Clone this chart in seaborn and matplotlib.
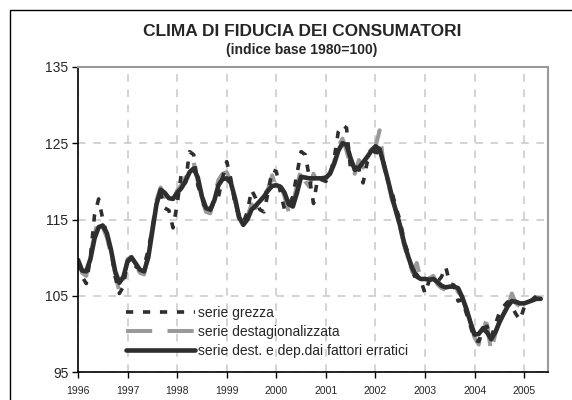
import numpy as np
import pandas as pd
import seaborn as sns
import matplotlib.pyplot as plt
from matplotlib.patches import Rectangle

# monthly series, Jan 1996 - May 2005
serie_grezza = [
    109.3, 107.5, 106.6, 110.0, 115.6, 117.7, 115.0, 113.0, 110.8, 107.5, 105.3, 106.2,
    109.6, 110.1, 108.8, 108.5, 108.9, 111.0, 113.8, 117.0, 118.5, 116.5, 116.2, 113.9,
    117.0, 121.0, 119.8, 123.9, 123.5, 119.5, 117.8, 116.0, 116.2, 117.3, 118.0, 120.5,
    122.6, 120.3, 117.0, 115.5, 114.6, 116.0, 118.9, 117.8, 116.3, 116.0, 118.5, 121.5,
    121.3, 118.5, 116.3, 116.8, 118.0, 121.0, 123.9, 123.5, 120.5, 117.1, 120.4, 120.2,
    120.0, 120.8, 123.0, 126.5, 127.4, 127.0, 121.5, 122.0, 121.6, 119.8, 122.5, 123.2,
    124.0, 123.5, 122.4, 120.0, 118.6, 116.5, 114.8, 112.0, 110.5, 107.5, 107.8, 107.0,
    105.3, 107.0, 107.2, 106.8, 107.5, 108.8, 106.6, 106.4, 104.3, 104.5, 102.7, 101.0,
    99.2, 99.0, 100.8, 101.0, 99.5, 101.2, 102.8, 103.6, 104.2, 103.6, 102.6, 101.8,
    103.5, 104.2, 104.5, 105.0, 105.8,
]
serie_destag = [
    109.5, 108.0, 107.6, 110.3, 113.0, 115.2, 114.0, 112.6, 110.5, 108.0, 105.5, 107.2,
    109.8, 110.2, 109.0, 108.0, 107.8, 110.5, 114.0, 117.5, 119.2, 118.2, 117.0, 117.4,
    118.8, 119.5, 120.5, 121.0, 122.5, 120.0, 117.5, 116.0, 115.8, 118.0, 120.2, 121.0,
    121.2, 120.0, 117.5, 115.0, 114.0, 115.4, 117.0, 116.5, 117.8, 118.2, 119.0, 120.8,
    119.0, 119.6, 118.0, 116.0, 117.0, 119.5, 121.5, 120.0, 119.3, 121.0, 119.8, 120.8,
    120.3, 121.2, 122.6, 124.5, 125.6, 124.0, 122.0, 121.0, 122.8, 121.8, 123.5, 124.2,
    124.5, 126.7, 122.0, 120.0, 117.5, 116.2, 113.8, 111.5, 109.8, 108.0, 109.3, 107.0,
    107.0, 107.3, 107.6, 106.5, 106.0, 105.8, 106.4, 106.3, 105.5, 104.9, 103.0, 101.5,
    99.5, 98.6, 101.5, 101.3, 97.7, 100.0, 101.8, 102.5, 103.3, 105.3, 104.0, 103.6,
    103.8, 104.3, 104.6, 104.8, 104.5,
]
serie_trend = [
    109.7, 108.3, 108.2, 109.8, 112.5, 114.0, 114.2, 113.2, 111.0, 108.2, 106.7, 107.5,
    109.5, 110.0, 109.2, 108.4, 108.2, 110.0, 113.5, 117.0, 118.9, 118.5, 117.8, 117.7,
    118.5, 119.1, 120.0, 121.2, 121.7, 120.5, 118.0, 116.5, 116.3, 117.5, 119.5, 120.3,
    120.4, 119.8, 117.8, 115.3, 114.3, 115.0, 116.3, 116.8, 117.4, 118.0, 118.8, 119.4,
    119.5, 119.3, 118.5, 117.0, 116.7, 118.5, 120.6, 120.5, 120.4, 120.4, 120.4, 120.4,
    120.5, 121.0, 122.3, 124.0, 125.0, 124.8, 123.0, 121.5, 121.8, 122.5, 123.2, 124.0,
    124.6, 124.2, 122.3, 120.2, 118.0, 116.0, 114.1, 111.8, 110.0, 108.5, 107.5, 107.2,
    107.2, 107.1, 107.2, 106.8, 106.3, 106.1, 106.2, 106.2, 106.0, 104.8, 103.3, 101.5,
    99.9, 100.0, 100.7, 100.2, 99.3, 100.2, 101.5, 102.6, 103.6, 104.3, 104.2, 104.0,
    104.0, 104.2, 104.4, 104.6, 104.6,
]
anni = list(range(1996, 2006))
yticks = [95, 105, 115, 125, 135]

dates = pd.date_range("1996-01-01", periods=len(serie_trend), freq="MS")
df = pd.DataFrame({
    "t": dates.year + (dates.month - 1) / 12,
    "grezza": serie_grezza,
    "destag": serie_destag,
    "trend": serie_trend,
})

sns.set_style("white")
plt.rcParams["font.family"] = ["Liberation Sans", "DejaVu Sans"]

fig = plt.figure(figsize=(5.72, 4.0), dpi=100)
ax = fig.add_axes([78 / 572, 28 / 400, 470 / 572, 305 / 400])

dark = "#2e2e2e"
sns.lineplot(data=df, x="t", y="destag", ax=ax, color="#9a9a9a", lw=2.9,
             label="serie destagionalizzata")
ax.lines[-1].set_dashes((6.5, 3.8))
sns.lineplot(data=df, x="t", y="grezza", ax=ax, color=dark, lw=2.6,
             label="serie grezza")
ax.lines[-1].set_dashes((2.0, 2.7))
sns.lineplot(data=df, x="t", y="trend", ax=ax, color=dark, lw=3.3,
             label="serie dest. e dep.dai fattori erratici")

ax.set_xlim(1996, 2005.48)
ax.set_ylim(95, 135)
ax.set_xticks(anni)
ax.set_xticklabels([str(a) for a in anni], fontsize=7.5)
ax.set_yticks(yticks)
ax.set_yticklabels([str(v) for v in yticks], fontsize=10)
ax.set_xlabel("")
ax.set_ylabel("")
ax.tick_params(axis="both", direction="out", length=4, width=1, color="black",
               left=True, bottom=True, pad=3)
ax.tick_params(axis="x", pad=6)

ax.grid(True, color="#c8c8c8", lw=1.1, ls=(0, (5, 5)))
for s in ["top", "right"]:
    ax.spines[s].set_color("#9a9a9a")
    ax.spines[s].set_linewidth(1.5)
for s in ["left", "bottom"]:
    ax.spines[s].set_color("black")
    ax.spines[s].set_linewidth(1.2)

h, l = ax.get_legend_handles_labels()
order = [1, 0, 2]
ax.legend([h[i] for i in order], [l[i] for i in order], loc="upper left",
          bbox_to_anchor=(0.09, 0.235), frameon=False, fontsize=10,
          handlelength=5.0, handletextpad=0.2, labelspacing=0.36,
          borderaxespad=0)

fig.text(302 / 572, 1 - 32 / 400, "CLIMA DI FIDUCIA DEI CONSUMATORI",
         ha="center", va="center", fontsize=12.5, fontweight="bold")
fig.text(302 / 572, 1 - 50 / 400, "(indice base 1980=100)",
         ha="center", va="center", fontsize=10, fontweight="bold")

fig.patches.append(Rectangle((10 / 572, -0.1), 1.2, 1 - 10 / 400 + 0.1,
                             transform=fig.transFigure, fill=False,
                             edgecolor="black", lw=1))

fig.savefig("out.png", dpi=100)
